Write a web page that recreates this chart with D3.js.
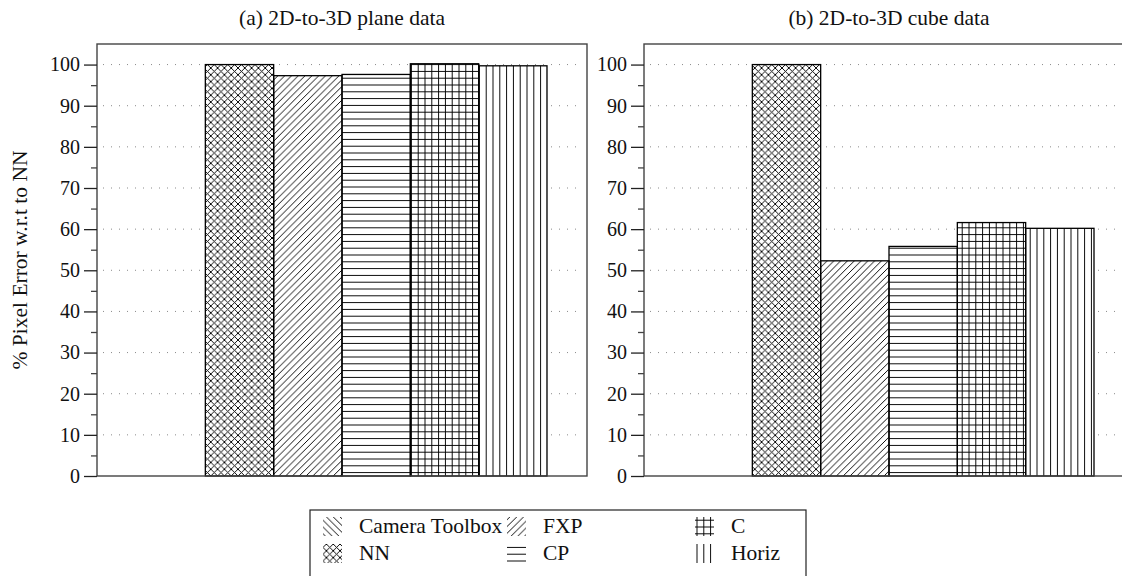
<!DOCTYPE html>
<html>
<head>
<meta charset="utf-8">
<script src="https://cdn.jsdelivr.net/npm/d3@7"></script>
<style>
  html, body { margin: 0; padding: 0; background: #fff; }
  svg { display: block; }
  text { font-family: "Liberation Serif", "DejaVu Serif", serif; fill: #111; }
</style>
</head>
<body>
<svg id="chart" width="1122" height="576"></svg>
<script>
// Methods compared in each panel
const categories = ["Camera Toolbox", "NN", "FXP", "CP", "C", "Horiz"];
const panelTitles = ["(a) 2D-to-3D plane data", "(b) 2D-to-3D cube data"];
// % pixel error relative to NN (Camera Toolbox has no bar)
const planeValues = [null, 100, 97.3, 97.6, 100.2, 99.7];
const cubeValues  = [null, 100, 52.3, 55.8, 61.6, 60.2];
const yTicks = [0, 10, 20, 30, 40, 50, 60, 70, 80, 90, 100];
const yMinorTicks = [5, 15, 25, 35, 45, 55, 65, 75, 85, 95];
const yLabel = "% Pixel Error w.r.t to NN";
const patternIds = ["nwlines", "crosshatch", "nelines", "hlines", "grid", "vlines"];

const svg = d3.select("#chart");

const plotTop = 44, plotBottom = 476, panelW = 490, padOuter = 40;
const panelLefts = [97, 644];
const textSize = 21.5, tickSize = 20;

const y = d3.scaleLinear().domain([0, 105]).range([plotBottom, plotTop]);

// Hatch patterns
const defs = svg.append("defs");
const P = 6.8;
function pat(id, d) {
  const p = defs.append("pattern")
    .attr("id", id)
    .attr("patternUnits", "userSpaceOnUse")
    .attr("width", P).attr("height", P);
  p.append("path").attr("d", d)
    .attr("stroke", "#000").attr("stroke-width", 0.95).attr("fill", "none");
}
pat("nwlines", `M-1,-1 L${P+1},${P+1} M${P-1},-1 L${P+1},1 M-1,${P-1} L1,${P+1}`);
pat("nelines", `M-1,${P+1} L${P+1},-1 M-1,1 L1,-1 M${P-1},${P+1} L${P+1},${P-1}`);
pat("crosshatch", `M-1,-1 L${P+1},${P+1} M-1,${P+1} L${P+1},-1`);
pat("hlines", `M0,${P/2} L${P},${P/2}`);
pat("vlines", `M${P/2},0 L${P/2},${P}`);
pat("grid", `M0,${P/2} L${P},${P/2} M${P/2},0 L${P/2},${P}`);

const datasets = [planeValues, cubeValues];

panelLefts.forEach((left, pi) => {
  const g = svg.append("g");
  const x = d3.scaleBand()
    .domain(categories)
    .range([left + padOuter, left + panelW - padOuter])
    .padding(0);

  // dotted grid
  g.selectAll(".grid").data(yTicks.filter(t => t > 0)).join("line")
    .attr("x1", left + 6).attr("x2", left + panelW - 4)
    .attr("y1", d => y(d)).attr("y2", d => y(d))
    .attr("stroke", "#8a8a8a").attr("stroke-width", 1)
    .attr("stroke-dasharray", "1,7");

  // bars
  const vals = datasets[pi];
  const bars = categories.map((c, i) => ({ c, v: vals[i], p: patternIds[i] }))
    .filter(d => d.v !== null);
  g.selectAll(".bar").data(bars).join("rect")
    .attr("x", d => x(d.c)).attr("width", x.bandwidth())
    .attr("y", d => y(d.v)).attr("height", d => y(0) - y(d.v))
    .attr("fill", "#fff");
  g.selectAll(".barp").data(bars).join("rect")
    .attr("x", d => x(d.c)).attr("width", x.bandwidth())
    .attr("y", d => y(d.v)).attr("height", d => y(0) - y(d.v))
    .attr("fill", d => `url(#${d.p})`)
    .attr("stroke", "#000").attr("stroke-width", 1.3);

  // frame
  g.append("rect")
    .attr("x", left).attr("y", plotTop)
    .attr("width", panelW).attr("height", plotBottom - plotTop)
    .attr("fill", "none").attr("stroke", "#444").attr("stroke-width", 1.4);

  // y axis
  const axis = d3.axisLeft(y).tickValues(yTicks).tickSize(13).tickPadding(4)
    .tickFormat(d3.format("d"));
  const ag = g.append("g").attr("transform", `translate(${left},0)`).call(axis);
  ag.select(".domain").remove();
  ag.selectAll(".tick line").attr("stroke", "#222").attr("stroke-width", 1.3);
  ag.selectAll(".tick text").attr("font-size", tickSize)
    .attr("font-family", "'Liberation Serif', serif").attr("fill", "#111");
  const minor = d3.axisLeft(y).tickValues(yMinorTicks).tickSize(6).tickFormat("");
  const mg = g.append("g").attr("transform", `translate(${left},0)`).call(minor);
  mg.select(".domain").remove();
  mg.selectAll(".tick line").attr("stroke", "#444").attr("stroke-width", 1.3);

  // title
  g.append("text")
    .attr("x", left + panelW / 2).attr("y", 25)
    .attr("text-anchor", "middle").attr("font-size", textSize)
    .text(panelTitles[pi]);
});

// y-axis label
svg.append("text")
  .attr("transform", `translate(27,${(plotTop + plotBottom) / 2}) rotate(-90)`)
  .attr("text-anchor", "middle").attr("font-size", textSize)
  .text(yLabel);

// legend
const lg = svg.append("g");
lg.append("rect")
  .attr("x", 310).attr("y", 510).attr("width", 496).attr("height", 80)
  .attr("fill", "#fff").attr("stroke", "#222").attr("stroke-width", 1.2);
const colX = [323, 507, 695];
const rowY = [517, 544];
const legendOrder = [0, 2, 4, 1, 3, 5];
legendOrder.forEach((ci, k) => {
  const col = k % 3, row = Math.floor(k / 3);
  const gx = colX[col], gy = rowY[row];
  lg.append("rect")
    .attr("x", gx).attr("y", gy).attr("width", 19).attr("height", 19)
    .attr("fill", `url(#${patternIds[ci]})`);
  lg.append("text")
    .attr("x", gx + 36).attr("y", gy + 16)
    .attr("font-size", textSize)
    .text(categories[ci]);
});
</script>
</body>
</html>
